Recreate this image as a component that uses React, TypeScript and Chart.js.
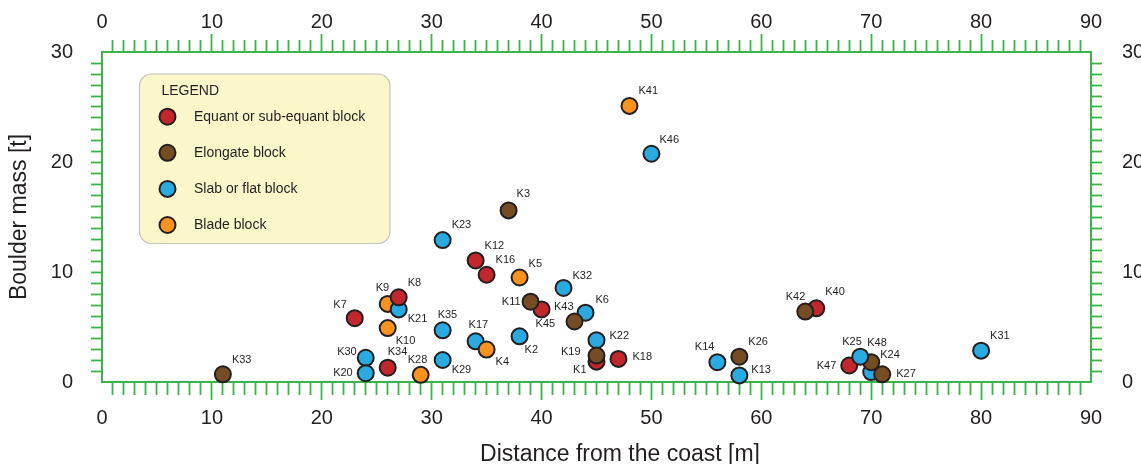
import React, { useEffect, useRef } from 'react';
import { Chart, registerables } from 'chart.js';

Chart.register(...registerables);

// ---- data (drawing order = stacking order of the markers) ----
const boulderIds = [
  'K33', 'K7', 'K30', 'K20', 'K34', 'K10', 'K28', 'K9', 'K21', 'K8',
  'K35', 'K29', 'K23', 'K17', 'K4', 'K12', 'K16', 'K3', 'K5', 'K2',
  'K45', 'K11', 'K32', 'K6', 'K43', 'K22', 'K1', 'K19', 'K18', 'K41',
  'K46', 'K14', 'K26', 'K13', 'K40', 'K42', 'K47', 'K24', 'K48', 'K27',
  'K25', 'K31',
];
const distanceM = [
  11, 23, 24, 24, 26, 26, 29, 26, 27, 27,
  31, 31, 31, 34, 35, 34, 35, 37, 38, 38,
  40, 39, 42, 44, 43, 45, 45, 45, 47, 48,
  50, 56, 58, 58, 65, 64, 68, 70, 70, 71,
  69, 80,
];
const massT = [
  0.7, 5.8, 2.2, 0.8, 1.3, 4.9, 0.65, 7.1, 6.6, 7.7,
  4.7, 2.0, 12.9, 3.7, 2.95, 11.05, 9.75, 15.6, 9.5, 4.15,
  6.6, 7.3, 8.55, 6.3, 5.5, 3.8, 1.85, 2.4, 2.1, 25.1,
  20.75, 1.8, 2.3, 0.6, 6.7, 6.4, 1.5, 0.9, 1.8, 0.7,
  2.3, 2.85,
];
// 0 = equant, 1 = elongate, 2 = slab, 3 = blade
const shapeIndex = [
  1, 0, 2, 2, 0, 3, 3, 3, 2, 0,
  2, 2, 2, 2, 3, 0, 0, 1, 3, 2,
  0, 1, 2, 2, 1, 2, 0, 1, 0, 3,
  2, 2, 1, 2, 0, 1, 0, 2, 1, 1,
  2, 2,
];
const shapeNames = [
  'Equant or sub-equant block',
  'Elongate block',
  'Slab or flat block',
  'Blade block',
];
const xTitle = 'Distance from the coast [m]';
const yTitle = 'Boulder mass [t]';
const legendTitle = 'LEGEND';
const xRange = [0, 90];
const yRange = [0, 30];
const majorStep = 10;

// ---- styles ----
const SHAPE_COLORS = ['#C1272D', '#754C24', '#29ABE2', '#F7931E'];
const GREEN = '#39B54A';
const INK = '#231F20';
const FONT = '"Liberation Sans", Arial, Helvetica, sans-serif';
const CLEAR = 'rgba(0,0,0,0)';

// label placement around each marker: [dx, dy, textAlign]
const LABEL_OFFSETS: Record<string, [number, number, CanvasTextAlign]> = {
  K41: [9, -15, 'left'], K46: [8, -14, 'left'], K3: [8, -16, 'left'],
  K23: [9, -15, 'left'], K12: [9, -14, 'left'], K16: [9, -15, 'left'],
  K5: [9, -14, 'left'], K32: [9, -12, 'left'], K11: [-10, 0, 'right'],
  K45: [-6, 15, 'left'], K43: [-1, -15, 'right'], K6: [10, -13, 'left'],
  K22: [13, -4, 'left'], K19: [-16, -4, 'right'], K1: [-10, 8, 'right'],
  K18: [14, -2, 'left'], K2: [5, 14, 'left'], K17: [-7, -16, 'left'],
  K4: [9, 12, 'left'], K35: [-5, -15, 'left'], K29: [9, 10, 'left'],
  K28: [-13, -15, 'left'], K34: [0, -16, 'left'], K30: [-9, -6, 'right'],
  K20: [-13, 0, 'right'], K10: [8, 13, 'left'], K7: [-8, -13, 'right'],
  K9: [-12, -16, 'left'], K21: [9, 10, 'left'], K8: [9, -14, 'left'],
  K33: [9, -14, 'left'], K14: [-3, -15, 'right'], K26: [9, -15, 'left'],
  K13: [12, -5, 'left'], K42: [0, -15, 'right'], K40: [9, -16, 'left'],
  K47: [-13, 0, 'right'], K25: [-18, -15, 'left'], K48: [-4, -19, 'left'],
  K24: [9, -17, 'left'], K27: [14, 0, 'left'], K31: [9, -15, 'left'],
};

const pointLabelPlugin = {
  id: 'pointLabels',
  afterDatasetsDraw(chart: any) {
    const meta = chart.getDatasetMeta(0);
    const ctx = chart.ctx as CanvasRenderingContext2D;
    ctx.save();
    ctx.font = `11px ${FONT}`;
    ctx.fillStyle = INK;
    ctx.textBaseline = 'middle';
    meta.data.forEach((el: any, i: number) => {
      const id = boulderIds[i];
      const [dx, dy, align] = LABEL_OFFSETS[id] || [9, -14, 'left'];
      ctx.textAlign = align;
      ctx.fillText(id, el.x + dx, el.y + dy);
    });
    ctx.restore();
  },
};

const legendBoxPlugin = {
  id: 'legendBox',
  beforeDatasetsDraw(chart: any) {
    const { ctx, chartArea } = chart;
    const left = chartArea.left + 37.5;
    const top = chartArea.top + 22;
    const w = 250.5;
    const h = 169.5;
    const r = 12;
    ctx.save();
    ctx.beginPath();
    ctx.moveTo(left + r, top);
    ctx.lineTo(left + w - r, top);
    ctx.arcTo(left + w, top, left + w, top + r, r);
    ctx.lineTo(left + w, top + h - r);
    ctx.arcTo(left + w, top + h, left + w - r, top + h, r);
    ctx.lineTo(left + r, top + h);
    ctx.arcTo(left, top + h, left, top + h - r, r);
    ctx.lineTo(left, top + r);
    ctx.arcTo(left, top, left + r, top, r);
    ctx.closePath();
    ctx.fillStyle = '#FBF7CB';
    ctx.fill();
    ctx.lineWidth = 1.2;
    ctx.strokeStyle = '#C4C4C0';
    ctx.stroke();

    ctx.font = `14px ${FONT}`;
    ctx.fillStyle = INK;
    ctx.textBaseline = 'middle';
    ctx.textAlign = 'left';
    ctx.fillText(legendTitle, left + 22, top + 17);
    shapeNames.forEach((name, i) => {
      const cy = top + 42.7 + i * 36.1;
      ctx.beginPath();
      ctx.arc(left + 28, cy, 8, 0, Math.PI * 2);
      ctx.fillStyle = SHAPE_COLORS[i];
      ctx.fill();
      ctx.lineWidth = 2;
      ctx.strokeStyle = INK;
      ctx.stroke();
      ctx.fillStyle = INK;
      ctx.fillText(name, left + 54.5, cy);
    });
    ctx.restore();
  },
};

const xTitlePlugin = {
  id: 'xTitle',
  afterDraw(chart: any) {
    const { ctx, chartArea } = chart;
    ctx.save();
    ctx.font = `23px ${FONT}`;
    ctx.fillStyle = INK;
    ctx.textAlign = 'center';
    ctx.textBaseline = 'alphabetic';
    ctx.fillText(xTitle, (chartArea.left + chartArea.right) / 2 + 23.5, 461);
    ctx.restore();
  },
};

const isMajor = (v: number) => v % majorStep === 0;

function xAxis(position: 'top' | 'bottom') {
  return {
    type: 'linear' as const,
    position,
    min: xRange[0],
    max: xRange[1],
    afterFit: (s: any) => {
      s.height = position === 'top' ? 52 : 82;
    },
    border: { display: true, color: GREEN, width: 2 },
    grid: {
      display: true,
      drawOnChartArea: false,
      drawTicks: true,
      tickLength: 18,
      tickWidth: 1.8,
      tickColor: (c: any) => {
        const v = c.tick ? c.tick.value : NaN;
        return v === xRange[0] || v === xRange[1] ? CLEAR : GREEN;
      },
      tickBorderDash: (c: any) => {
        const v = c.tick ? c.tick.value : 0;
        if (isMajor(v)) return [];
        return position === 'top' ? [0, 6, 11, 100] : [12, 100];
      },
    },
    ticks: {
      stepSize: 1,
      autoSkip: false,
      maxRotation: 0,
      minRotation: 0,
      padding: position === 'top' ? 1.5 : 8,
      color: INK,
      font: { family: FONT, size: 20, lineHeight: 1 },
      callback: (v: any) => (isMajor(Number(v)) ? String(v) : ''),
    },
  };
}

function yAxis(position: 'left' | 'right') {
  return {
    type: 'linear' as const,
    position,
    min: yRange[0],
    max: yRange[1],
    afterFit: (s: any) => {
      s.width = position === 'left' ? 102 : 50;
    },
    border: { display: true, color: GREEN, width: 2 },
    grid: {
      display: true,
      drawOnChartArea: false,
      drawTicks: true,
      tickLength: 11,
      tickWidth: 1.8,
      tickColor: (c: any) => {
        const v = c.tick ? c.tick.value : NaN;
        return v === yRange[0] || v === yRange[1] ? CLEAR : GREEN;
      },
    },
    ticks: {
      stepSize: 1,
      autoSkip: false,
      padding: position === 'left' ? 18 : 20,
      color: INK,
      font: { family: FONT, size: 20, lineHeight: 1 },
      callback: (v: any) => (isMajor(Number(v)) ? String(v) : ''),
    },
    title: {
      display: position === 'left',
      text: yTitle,
      color: INK,
      font: { family: FONT, size: 23, lineHeight: 1 },
      padding: { top: 8.5, bottom: 0 },
    },
  };
}

export default function App() {
  const canvasRef = useRef<HTMLCanvasElement | null>(null);

  useEffect(() => {
    const canvas = canvasRef.current;
    if (!canvas) return;
    const chart = new Chart(canvas, {
      type: 'scatter',
      data: {
        datasets: [
          {
            label: 'Boulders',
            data: distanceM.map((x, i) => ({ x, y: massT[i] })),
            pointBackgroundColor: shapeIndex.map((s) => SHAPE_COLORS[s]),
            pointBorderColor: INK,
            pointBorderWidth: 2,
            pointRadius: 8,
            pointHoverRadius: 8,
            clip: false as any,
            xAxisID: 'x',
            yAxisID: 'y',
          },
        ],
      },
      options: {
        responsive: false,
        animation: false,
        devicePixelRatio: 1,
        events: [],
        layout: { padding: 0 },
        scales: {
          x: xAxis('bottom'),
          x2: xAxis('top'),
          y: yAxis('left'),
          y2: yAxis('right'),
        } as any,
        plugins: {
          legend: { display: false },
          tooltip: { enabled: false },
          title: { display: false },
        },
      },
      plugins: [legendBoxPlugin, pointLabelPlugin, xTitlePlugin],
    });
    return () => chart.destroy();
  }, []);

  return (
    <div
      style={{
        position: 'fixed',
        left: 0,
        top: 0,
        width: 1141,
        height: 464,
        background: '#ffffff',
      }}
    >
      <canvas ref={canvasRef} width={1141} height={464} style={{ display: 'block' }} />
    </div>
  );
}
